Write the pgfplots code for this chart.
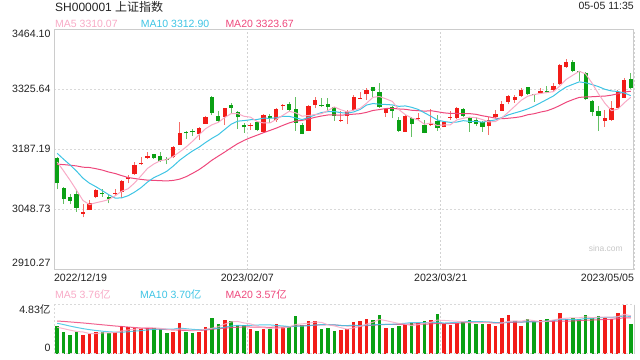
\documentclass[border=0pt]{standalone}
\usepackage{pgfplots}
\pgfplotsset{compat=1.18}
\usepackage{pgfplotstable}
\usepackage{fontspec}
\setmainfont{Liberation Sans}
\newfontfamily\cjk{Noto Sans CJK SC}
\definecolor{up}{RGB}{242,28,24}
\definecolor{dn}{RGB}{10,160,20}
\definecolor{upw}{RGB}{246,110,105}
\definecolor{dnw}{RGB}{100,192,100}
\definecolor{maA}{RGB}{248,170,198}
\definecolor{maB}{RGB}{62,196,228}
\definecolor{maC}{RGB}{238,72,124}
\definecolor{txt}{RGB}{34,34,34}

\pgfplotstableread{
i O H L C V
4 3040.3 3061.8 3031.8 3044.9 1.87
5 3048.7 3071.8 3048.0 3064.1 2.00
6 3079.5 3097.2 3075.6 3094.9 2.20
9 3085.7 3096.4 3081.0 3088.7 2.14
10 3091.0 3117.9 3075.6 3115.6 2.76
11 3119.5 3129.5 3110.3 3124.1 2.66
12 3131.0 3160.3 3129.5 3152.6 2.53
13 3154.1 3171.8 3152.6 3156.4 2.59
14 3169.5 3181.8 3166.4 3174.1 2.59
18 3171.8 3196.4 3168.0 3193.3 2.17
19 3198.7 3251.8 3198.0 3225.6 3.09
22 3223.3 3241.0 3210.3 3238.7 2.17
23 3247.2 3265.6 3247.0 3262.6 2.66
26 3264.1 3284.9 3244.9 3283.3 3.38
30 3242.6 3250.3 3233.3 3244.9 2.50
32 3229.5 3270.2 3229.0 3267.9 2.50
34 3256.4 3284.9 3252.6 3281.8 2.96
35 3288.7 3293.3 3279.5 3291.0 2.63
39 3231.8 3291.0 3231.0 3288.7 3.25
40 3291.0 3308.7 3283.3 3302.5 3.25
44 3254.9 3277.9 3252.6 3256.4 2.40
45 3265.6 3279.5 3246.4 3277.9 2.46
46 3279.5 3314.1 3277.9 3308.7 3.15
47 3305.6 3321.8 3304.9 3307.2 3.25
48 3315.6 3329.5 3302.5 3325.6 3.45
51 3273.3 3283.3 3264.1 3281.8 2.56
54 3229.5 3267.9 3229.0 3266.4 2.96
56 3258.7 3271.8 3256.4 3261.0 3.06
58 3244.1 3281.0 3242.6 3246.4 3.35
60 3241.0 3254.1 3239.5 3252.6 2.96
61 3261.8 3277.9 3256.4 3263.3 2.86
62 3260.3 3287.2 3258.7 3283.3 3.06
67 3243.3 3262.6 3221.8 3256.4 2.96
68 3262.6 3279.5 3260.3 3270.2 2.76
69 3277.9 3300.2 3277.2 3293.3 3.55
70 3298.7 3314.1 3292.6 3311.8 3.84
71 3302.5 3314.1 3296.4 3308.7 3.25
72 3312.6 3329.5 3310.3 3325.6 2.76
75 3317.9 3329.5 3316.4 3323.3 3.35
77 3325.6 3341.0 3324.1 3334.9 3.35
78 3338.7 3384.9 3337.2 3383.3 4.04
79 3379.5 3397.2 3377.2 3389.5 3.45
85 3254.9 3279.5 3241.0 3261.0 3.55
86 3256.4 3300.2 3254.9 3283.3 3.45
87 3284.9 3325.6 3283.3 3321.8 4.04
88 3307.9 3352.5 3306.4 3348.7 4.83
}\upT

\pgfplotstableread{
i O H L C V
0 3168.0 3171.8 3096.4 3110.3 2.76
1 3100.3 3101.0 3062.6 3074.1 2.17
2 3079.5 3085.7 3061.8 3069.5 1.87
3 3085.7 3094.9 3044.9 3054.1 2.17
7 3087.2 3096.4 3079.5 3085.7 2.17
8 3078.0 3083.3 3064.1 3074.9 2.10
15 3177.2 3177.5 3166.4 3168.0 2.53
16 3173.3 3183.3 3158.7 3162.6 2.43
17 3166.4 3171.8 3154.1 3164.1 2.10
20 3229.5 3231.0 3212.6 3225.6 2.17
21 3229.5 3234.9 3219.5 3227.9 2.10
24 3308.7 3311.8 3267.9 3271.8 3.58
25 3265.6 3277.2 3251.0 3254.1 2.96
27 3290.3 3296.4 3273.3 3284.9 3.29
28 3275.6 3277.2 3235.6 3262.6 2.83
29 3244.9 3250.3 3227.2 3239.5 2.86
31 3252.6 3254.1 3231.0 3233.3 2.27
33 3265.6 3270.2 3250.3 3261.8 2.50
36 3293.3 3297.2 3277.9 3279.5 2.69
37 3281.8 3308.7 3231.8 3250.3 3.75
38 3244.9 3248.7 3223.5 3224.1 2.83
41 3291.0 3306.4 3287.2 3288.7 2.50
42 3293.3 3306.4 3277.9 3287.2 2.56
43 3285.6 3287.2 3254.9 3265.6 2.27
49 3331.8 3333.3 3310.3 3324.1 3.35
50 3320.3 3342.6 3284.9 3287.2 3.84
52 3285.6 3288.7 3260.3 3277.9 2.56
53 3256.4 3262.6 3229.5 3231.8 2.76
55 3260.3 3262.6 3217.9 3246.4 3.09
57 3244.1 3256.4 3225.6 3227.2 3.25
59 3254.1 3267.2 3231.8 3237.2 3.94
63 3281.0 3283.3 3262.6 3265.6 3.15
64 3260.3 3262.6 3229.5 3250.3 3.35
65 3256.4 3262.6 3242.6 3246.4 2.96
66 3252.6 3254.1 3229.5 3241.0 2.96
73 3331.8 3333.3 3314.1 3316.4 3.45
74 3315.6 3316.4 3298.7 3314.1 3.15
76 3321.8 3334.9 3317.9 3320.3 3.45
80 3389.5 3394.9 3366.4 3370.3 3.55
81 3367.9 3368.0 3346.4 3366.4 3.45
82 3364.1 3366.4 3302.5 3304.1 3.84
83 3300.2 3302.5 3265.6 3275.6 3.55
84 3277.2 3288.7 3231.0 3266.4 3.75
89 3351.0 3364.1 3327.2 3329.5 2.96
}\dnT

\pgfplotstableread{
i m5 m10 m20 v5 v10 v20
0 3159.3 3179.5 3154.2 2.63 3.03 3.25
1 3138.7 3165.7 3153.5 2.50 2.90 3.21
2 3117.2 3152.7 3152.1 2.35 2.75 3.16
3 3094.3 3138.3 3150.4 2.22 2.62 3.11
4 3070.6 3122.1 3147.5 2.17 2.50 3.06
5 3061.3 3110.6 3146.8 2.02 2.40 3.00
6 3065.5 3102.5 3144.1 2.02 2.32 2.94
7 3068.7 3093.4 3140.8 2.08 2.25 2.88
8 3072.9 3084.0 3136.3 2.07 2.19 2.82
9 3081.7 3076.1 3132.9 2.12 2.15 2.76
10 3092.0 3076.7 3128.1 2.27 2.15 2.71
11 3097.8 3081.7 3123.7 2.37 2.19 2.66
12 3111.2 3090.0 3121.4 2.44 2.26 2.61
13 3127.5 3100.2 3119.3 2.54 2.30 2.56
14 3144.6 3113.1 3117.7 2.63 2.37 2.52
15 3155.0 3123.5 3117.1 2.58 2.43 2.48
16 3162.7 3130.3 3116.4 2.53 2.45 2.44
17 3165.0 3138.1 3115.8 2.45 2.44 2.41
18 3172.4 3150.0 3117.0 2.36 2.45 2.38
19 3182.7 3163.6 3119.9 2.46 2.55 2.35
20 3194.2 3174.6 3125.6 2.39 2.49 2.32
21 3207.3 3185.0 3133.3 2.33 2.43 2.31
22 3222.2 3193.6 3141.8 2.34 2.39 2.33
23 3236.1 3204.3 3152.2 2.44 2.40 2.35
24 3245.3 3214.0 3163.6 2.54 2.50 2.44
25 3251.0 3222.6 3173.1 2.69 2.54 2.49
26 3262.1 3234.7 3182.5 2.95 2.64 2.54
27 3271.3 3246.8 3192.4 3.17 2.76 2.60
28 3271.3 3253.7 3201.8 3.21 2.82 2.64
29 3264.9 3255.1 3209.4 3.06 2.80 2.67
30 3263.0 3257.0 3215.8 2.97 2.83 2.66
31 3253.0 3257.6 3221.3 2.75 2.85 2.64
32 3249.6 3260.5 3227.1 2.59 2.88 2.64
33 3249.5 3260.4 3232.3 2.53 2.87 2.63
34 3257.9 3261.4 3237.7 2.55 2.81 2.65
35 3267.2 3265.1 3243.9 2.57 2.77 2.66
36 3276.4 3264.7 3249.7 2.66 2.70 2.67
37 3272.9 3261.3 3254.0 2.91 2.75 2.75
38 3265.3 3257.4 3255.6 2.97 2.75 2.79
39 3266.7 3262.3 3258.7 3.03 2.79 2.79
40 3269.0 3268.1 3262.6 3.15 2.86 2.85
41 3270.9 3273.6 3265.6 3.12 2.89 2.87
42 3278.2 3275.6 3268.0 2.88 2.89 2.89
43 3286.5 3275.9 3268.2 2.77 2.87 2.87
44 3280.1 3273.4 3267.4 2.60 2.81 2.81
45 3275.2 3272.1 3268.6 2.44 2.80 2.78
46 3279.2 3275.0 3269.9 2.57 2.84 2.77
47 3283.2 3280.7 3271.0 2.71 2.79 2.77
48 3295.2 3290.9 3274.1 2.94 2.85 2.80
49 3308.7 3294.4 3278.4 3.13 2.86 2.83
50 3310.6 3292.9 3280.5 3.41 2.92 2.89
51 3305.2 3292.2 3282.9 3.29 2.93 2.91
52 3299.3 3291.2 3283.4 3.15 2.93 2.91
53 3280.6 3287.9 3281.9 3.01 2.98 2.92
54 3269.0 3288.9 3281.1 2.94 3.03 2.92
55 3260.9 3285.7 3278.9 2.79 3.10 2.95
56 3256.7 3280.9 3278.0 2.89 3.09 2.97
57 3246.6 3272.9 3276.8 3.02 3.09 2.94
58 3249.5 3265.0 3277.9 3.14 3.08 2.97
59 3243.6 3256.3 3275.4 3.34 3.14 3.00
60 3244.9 3252.9 3272.9 3.31 3.05 2.99
61 3245.3 3251.0 3271.6 3.27 3.08 3.00
62 3256.6 3251.6 3271.4 3.23 3.13 3.03
63 3260.4 3254.9 3271.4 3.19 3.17 3.07
64 3263.0 3253.3 3271.1 3.08 3.21 3.12
65 3261.8 3253.3 3269.5 3.08 3.19 3.15
66 3257.3 3251.3 3266.1 3.10 3.18 3.14
67 3251.9 3254.3 3263.6 3.08 3.16 3.12
68 3252.9 3256.6 3260.8 3.00 3.10 3.09
69 3261.5 3262.2 3259.3 3.04 3.06 3.10
70 3274.5 3268.2 3260.5 3.21 3.15 3.10
71 3288.1 3272.7 3261.9 3.27 3.18 3.13
72 3301.9 3276.9 3264.2 3.23 3.15 3.14
73 3311.2 3282.0 3268.5 3.37 3.18 3.18
74 3315.3 3288.4 3270.9 3.29 3.16 3.19
75 3317.6 3296.1 3274.7 3.19 3.20 3.20
76 3319.9 3304.0 3277.7 3.23 3.25 3.22
77 3321.8 3311.9 3283.1 3.35 3.29 3.22
78 3335.2 3323.2 3289.9 3.47 3.42 3.26
79 3350.3 3332.8 3297.5 3.53 3.41 3.23
80 3359.7 3338.6 3303.4 3.57 3.38 3.26
81 3368.9 3344.4 3308.6 3.57 3.40 3.29
82 3362.7 3342.3 3309.6 3.67 3.51 3.33
83 3341.2 3338.2 3310.1 3.57 3.52 3.35
84 3316.6 3333.4 3310.9 3.63 3.58 3.37
85 3294.7 3327.2 3311.6 3.63 3.60 3.40
86 3278.1 3323.5 3313.7 3.63 3.60 3.43
87 3281.6 3322.2 3317.0 3.67 3.67 3.48
88 3296.2 3318.7 3320.9 3.92 3.75 3.58
89 3308.9 3312.7 3322.8 3.77 3.70 3.55
}\maT

\newcommand{\rb}[2]{\raisebox{#1}[0pt][0pt]{#2}}
\newcommand{\fs}{\fontsize{10.6bp}{12bp}\selectfont}
\newcommand{\fl}{\fontsize{10.5bp}{12bp}\selectfont}

\begin{document}
\begin{tikzpicture}
\path[use as bounding box] (0,0) rectangle (640bp,360bp);

\begin{axis}[
  at={(54bp,90bp)}, anchor=south west, scale only axis,
  width=580bp, height=240bp,
  xmin=-0.5, xmax=89.5, ymin=2910.27, ymax=3464.10,
  axis line style={draw=gray!40, line width=1bp},
  xtick={-0.5,29.5,59.5,89.5},
  xticklabels={\rlap{2022/12/19},2023/02/07,2023/03/21,\llap{2023/05/05}},
  ytick={2910.27,3048.73,3187.19,3325.64,3464.10},
  yticklabels={\rb{3.2bp}{2910.27},\rb{-2.8bp}{3048.73},\rb{-2.8bp}{3187.19},\rb{-2.8bp}{3325.64},\rb{-7.8bp}{3464.10}},
  major tick length=0pt,
  tick style={draw=none},
  xmajorgrids, ymajorgrids,
  x grid style={gray!35, dash pattern=on 2bp off 2bp, line width=0.8bp},
  y grid style={gray!30, dash pattern=on 2bp off 2bp, line width=1bp},
  xticklabel style={anchor=base, inner sep=0pt, yshift=-11.7bp, font=\fs, text=txt},
  yticklabel style={anchor=east, inner sep=0pt, xshift=-3.3bp, font=\fs, text=txt},
  /pgf/number format/assume math mode=true,
]
% wicks
\addplot[draw=none, mark=none, forget plot,
  error bars/.cd, y dir=plus, y explicit, error mark=none,
  error bar style={draw=upw, solid, line width=1bp}]
  table[x=i, y=L, y error plus expr={\thisrow{H}-\thisrow{L}}] {\upT};
\addplot[draw=none, mark=none, forget plot,
  error bars/.cd, y dir=plus, y explicit, error mark=none,
  error bar style={draw=dnw, solid, line width=1bp}]
  table[x=i, y=L, y error plus expr={\thisrow{H}-\thisrow{L}}] {\dnT};
% bodies
\addplot[draw=none, mark=none, forget plot,
  error bars/.cd, y dir=plus, y explicit, error mark=none,
  error bar style={draw=up, solid, line width=4.3bp}]
  table[x=i, y=O, y error plus expr={max(\thisrow{C}-\thisrow{O},2.3)}] {\upT};
\addplot[draw=none, mark=none, forget plot,
  error bars/.cd, y dir=plus, y explicit, error mark=none,
  error bar style={draw=dn, solid, line width=4.3bp}]
  table[x=i, y=C, y error plus expr={max(\thisrow{O}-\thisrow{C},2.3)}] {\dnT};
% moving averages
\addplot[maC, line width=1bp, mark=none] table[x=i, y=m20] {\maT};
\addplot[maB, line width=1bp, mark=none] table[x=i, y=m10] {\maT};
\addplot[maA, line width=1bp, mark=none] table[x=i, y=m5] {\maT};
\end{axis}

\begin{axis}[
  at={(54bp,6bp)}, anchor=south west, scale only axis,
  width=580bp, height=49bp,
  xmin=-0.5, xmax=89.5, ymin=0, ymax=4.83,
  axis line style={draw=none},
  xtick={29.5,59.5}, xticklabel=\empty,
  ytick={0,4.83},
  yticklabels={\rb{2.2bp}{0},\rb{-8.8bp}{4.83{\cjk 亿}}},
  major tick length=0pt,
  tick style={draw=none},
  xmajorgrids,
  x grid style={gray!35, dash pattern=on 2bp off 2bp, line width=0.8bp},
  yticklabel style={anchor=east, inner sep=0pt, xshift=-3.3bp, font=\fs, text=txt},
  /pgf/number format/assume math mode=true,
]
\addplot[ycomb, draw=up, line width=3.6bp, mark=none] table[x=i, y=V] {\upT};
\addplot[ycomb, draw=dn, line width=3.6bp, mark=none] table[x=i, y=V] {\dnT};
\addplot[maC, line width=1bp, mark=none, opacity=0.85] table[x=i, y=v20] {\maT};
\addplot[maB, line width=1bp, mark=none, opacity=0.85] table[x=i, y=v10] {\maT};
\addplot[maA, line width=1bp, mark=none, opacity=0.85] table[x=i, y=v5] {\maT};
\end{axis}

% volume panel frame
\draw[gray!30, dash pattern=on 2bp off 2bp, line width=1bp] (54bp,55bp) -- (634bp,55bp);
\draw[gray!30, dash pattern=on 2bp off 2bp, line width=1bp] (54bp,6bp) -- (634bp,6bp);
\draw[gray!30, dash pattern=on 2bp off 2bp, line width=1bp] (54bp,6bp) -- (54bp,55bp);
\draw[gray!40, line width=1bp] (634bp,6bp) -- (634bp,55bp);

% texts
\node[anchor=base west, inner sep=0pt, text=txt] at (55bp,348bp)
  {\fontsize{12bp}{14bp}\selectfont SH000001 {\cjk 上证指数}};
\node[anchor=base east, inner sep=0pt, text=txt] at (634bp,350.7bp) {\fl 05-05 11:35};
\node[anchor=base west, inner sep=0pt, text=maA] at (55bp,332.7bp) {\fl MA5 3310.07};
\node[anchor=base west, inner sep=0pt, text=maB] at (140.7bp,332.7bp) {\fl MA10 3312.90};
\node[anchor=base west, inner sep=0pt, text=maC] at (225.3bp,332.7bp) {\fl MA20 3323.67};
\node[anchor=base west, inner sep=0pt, text=maA] at (55bp,61.7bp) {\fl MA5 3.76{\cjk 亿}};
\node[anchor=base west, inner sep=0pt, text=maB] at (140bp,61.7bp) {\fl MA10 3.70{\cjk 亿}};
\node[anchor=base west, inner sep=0pt, text=maC] at (225.3bp,61.7bp) {\fl MA20 3.57{\cjk 亿}};
\node[anchor=base east, inner sep=0pt, text=gray!45] at (623bp,108.5bp) {\fontsize{8.5bp}{10bp}\selectfont sina.com};
\end{tikzpicture}
\end{document}
